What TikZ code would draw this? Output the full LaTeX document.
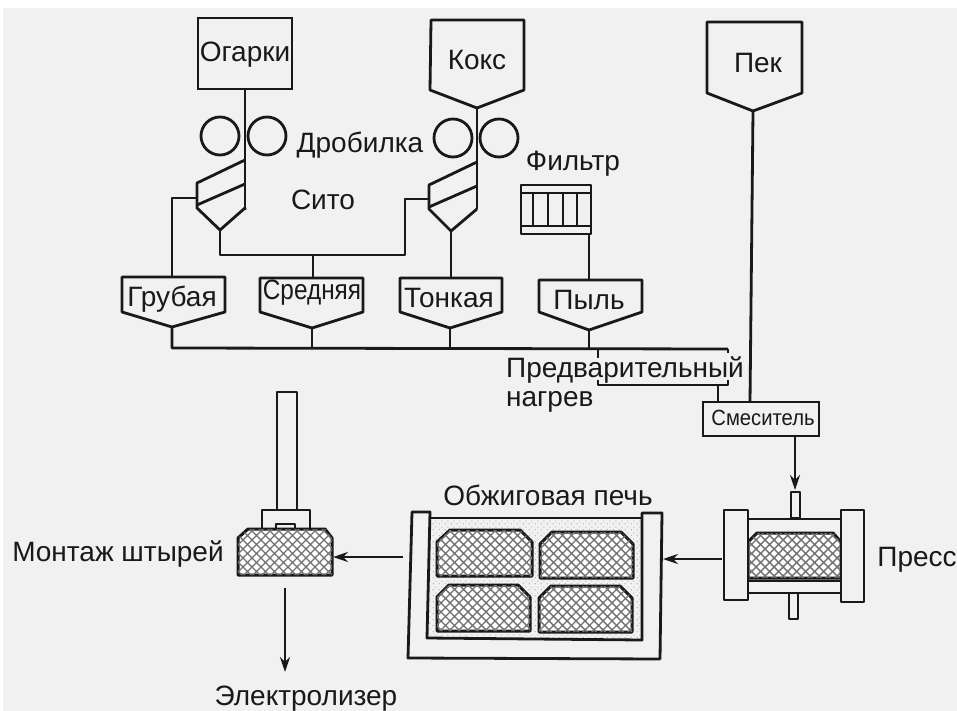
\documentclass[tikz,border=0pt]{standalone}
\usepackage{fontspec}
\usepackage{graphicx}
\setmainfont{Liberation Sans}
\usetikzlibrary{arrows.meta,patterns}
\pgfdeclarepatternformonly{anodemesh}{\pgfpoint{-1pt}{-1pt}}{\pgfpoint{10pt}{10pt}}{\pgfpoint{9pt}{9pt}}{
  \pgfsetlinewidth{1.4pt}
  \pgfpathmoveto{\pgfpoint{-1pt}{-1pt}}\pgfpathlineto{\pgfpoint{10pt}{10pt}}
  \pgfpathmoveto{\pgfpoint{-1pt}{10pt}}\pgfpathlineto{\pgfpoint{10pt}{-1pt}}
  \pgfusepath{stroke}}
\pgfdeclarepatternformonly{packingdots}{\pgfpoint{0pt}{0pt}}{\pgfpoint{6pt}{6pt}}{\pgfpoint{6pt}{6pt}}{
  \pgfpathcircle{\pgfpoint{1.5pt}{1.5pt}}{0.7pt}
  \pgfpathcircle{\pgfpoint{4.5pt}{4.5pt}}{0.7pt}
  \pgfusepath{fill}}
\definecolor{ink}{gray}{0.1}
\definecolor{paper}{gray}{0.945}
\tikzset{
  x=1pt,y=-1pt,
  ln/.style={draw=ink,line width=2.8pt,line join=round},
  thin ln/.style={draw=ink,line width=2pt,line join=round},
  flow/.style={draw=ink,line width=2.3pt,-{Stealth[length=15pt,width=10pt]}},
  lbl/.style={text=ink,inner sep=0pt,font=\fontsize{28}{30}\selectfont},
  anode/.style={draw=ink,line width=3pt,line join=round,fill=white,postaction={pattern=anodemesh,pattern color=black!55}},
  roller/.style={circle,draw=ink,line width=2.8pt,minimum size=38pt,inner sep=0pt},
}
\begin{document}
\begin{tikzpicture}
\useasboundingbox (0,0) rectangle (957,711);
\fill[white] (0,0) rectangle (957,711);
\fill[paper] (3,8) rectangle (965,720);

% coordinates
\coordinate (ogOut) at (245,89);
\coordinate (sieveA) at (245,210);
\coordinate (apexA) at (220,230);
\coordinate (sideA) at (197,198);
\coordinate (koksOut) at (477,108);
\coordinate (sieveB) at (477,209);
\coordinate (apexB) at (451,231);
\coordinate (sideB) at (429,199);
\coordinate (grubIn) at (172,277);
\coordinate (grubOut) at (172,327);
\coordinate (sredIn) at (313,278);
\coordinate (sredOut) at (312,328);
\coordinate (tonkIn) at (451,278);
\coordinate (tonkOut) at (450,328);
\coordinate (pylIn) at (589,280);
\coordinate (pylOut) at (589,330);
\coordinate (filtOut) at (589,234);
\coordinate (pekOut) at (753,111);
\coordinate (heatEnd) at (728,349);
\coordinate (junc) at (313,255);

% feed hoppers
\node[draw=ink,line width=2.8pt,minimum width=94pt,minimum height=71pt,inner sep=0pt] (ogarkibox) at (245,53.5) {};
\draw[ln] (431,20) -- (524,20) -- (524,90) -- (koksOut) -- (430,90) -- cycle;
\draw[ln] (707,22) -- (802,22) -- (802,93) -- (pekOut) -- (707,93) -- cycle;
\node[lbl] (ogarki) at (245,55) {Огарки};
\node[lbl] (koks) at (477,60) {Кокс};
\node[lbl] (pek) at (758,63) {Пек};

% crushers
\node[roller] (rollA1) at (220,136) {};
\node[roller] (rollA2) at (267,136) {};
\node[roller] (rollB1) at (453,138) {};
\node[roller] (rollB2) at (499,138) {};
\node[lbl] (drob) at (360,145) {Дробилка};

% sieves
\draw[ln] (245,160) -- (197,183) -- (197,208) -- (apexA) -- (245,208) -- (sieveA);
\draw[ln] (197,205) -- (245,184);
\draw[ln] (477,162) -- (429,185) -- (429,209) -- (apexB) -- (477,209);
\draw[ln] (429,207) -- (477,186);
\draw[ln] (ogOut) -- (sieveA);
\draw[ln] (koksOut) -- (sieveB);
\node[lbl] (sito) at (323,200) {Сито};

% filter
\node[lbl] (filtr) at (573,164) {Фильтр};
\draw[ln] (521,185) rectangle (591,234);
\draw[ln] (521,193) -- (591,193) (521,226) -- (591,226);
\foreach \vx in {533,548,563,577} \draw[ln] (\vx,193) -- (\vx,226);

% connectors of sieves
\draw[ln] (sideA) -| (grubIn);
\draw[ln] (apexA) |- (junc) -| (405,199) -- (sideB);
\draw[ln] (junc) -- (sredIn);
\draw[ln] (apexB) -- (tonkIn);
\draw[ln] (filtOut) -- (pylIn);

% size hoppers
\draw[ln] (122,277) -- (225,277) -- (225,312) -- (grubOut) -- (122,312) -- cycle;
\draw[ln] (260,278) -- (363,278) -- (363,312) -- (sredOut) -- (260,312) -- cycle;
\draw[ln] (400,278) -- (502,278) -- (502,312) -- (tonkOut) -- (400,312) -- cycle;
\draw[ln] (539,280) -- (642,280) -- (642,312) -- (pylOut) -- (539,312) -- cycle;
\node[lbl] (grub) at (172,299) {Грубая};
\node[lbl] (sred) at (312,293) {\scalebox{0.87}[1]{Средняя}};
\node[lbl] (tonk) at (449,298) {Тонкая};
\node[lbl] (pyl) at (589,300) {Пыль};

% collector and preheater
\draw[ln] (grubOut) -- (172,348) -- (heatEnd);
\draw[ln] (sredOut) -- (312,348);
\draw[ln] (tonkOut) -- (450,348);
\draw[ln] (pylOut) -- (589,349);
\draw[thin ln] (598,349) -- (598,358) (728,349) -- (728,353);
\draw[thin ln] (598,380) -- (598,385) -- (728,385) -- (728,380);
\node[lbl,anchor=west] (preheat) at (506,370) {Предварительный};
\node[lbl,anchor=west] (preheat2) at (506,402) {нагрев};

% mixer
\node[draw=ink,line width=2.8pt,minimum width=116pt,minimum height=34pt,inner sep=0pt] (mixer) at (761,419) {};
\node[text=ink,inner sep=0pt,font=\fontsize{22}{24}\selectfont] (mixerlbl) at (763,418) {\scalebox{0.92}[1]{Смеситель}};
\coordinate (mixIn) at (718,385);
\draw[ln] (mixIn) -- (718,402);
\draw[ln] (pekOut) -- (750,402);

% press
\draw[ln,fill=paper] (791,492) rectangle (800,518);
\draw[ln,fill=paper] (789,593) rectangle (798,619);
\draw[ln] (748,519) -- (841,519) (748,593) -- (841,593);
\draw[ln] (748,581) -- (841,581);
\draw[anode] (748,542) -- (757,533) -- (833,533) -- (841,542) -- (841,578) -- (748,578) -- cycle;
\draw[ln,fill=paper] (724,510) rectangle (748,600);
\draw[ln,fill=paper] (841,510) rectangle (864,602);
\coordinate (pressTop) at (795,490);
\draw[flow] (795,436) -- (pressTop);
\node[lbl] (press) at (917,560) {Пресс};

% furnace
\fill[pattern=packingdots,pattern color=black!35] (430,518) -- (642,518) -- (642,640) -- (427,638) -- cycle;
\draw[ln] (430,518) -- (642,518);
\draw[ln] (412,512) -- (430,512) -- (427,638) -- (642,640) -- (642,513) -- (662,513) -- (660,659) -- (408,658) -- cycle;
\draw[anode] (437,542) -- (450,530) -- (520,530) -- (532,542) -- (532,576) -- (437,576) -- cycle;
\draw[anode] (540,544) -- (552,532) -- (621,532) -- (633,544) -- (633,578) -- (540,578) -- cycle;
\draw[anode] (437,597) -- (449,585) -- (518,585) -- (530,597) -- (530,631) -- (437,631) -- cycle;
\draw[anode] (539,598) -- (551,586) -- (620,586) -- (632,598) -- (632,632) -- (539,632) -- cycle;
\node[lbl] (furn) at (548,495) {Обжиговая печь};
\coordinate (furnR) at (663,559);
\draw[flow] (722,559) -- (furnR);

% rodding
\draw[ln] (277,510) -- (277,392) -- (297,392) -- (297,510);
\draw[ln] (262,529) -- (262,510) -- (310,510) -- (310,529);
\draw[thin ln] (276,529) -- (276,524) -- (295,524) -- (295,529);
\draw[anode] (238,538) -- (248,529) -- (325,529) -- (332,538) -- (332,575) -- (238,575) -- cycle;
\node[lbl] (rod) at (118,554) {Монтаж штырей};
\coordinate (rodR) at (333,557);
\draw[flow] (403,557) -- (rodR);
\coordinate (rodOut) at (285,588);
\draw[flow] (rodOut) -- (285,672);
\node[lbl] (elec) at (306,699) {Электролизер};
\end{tikzpicture}
\end{document}
